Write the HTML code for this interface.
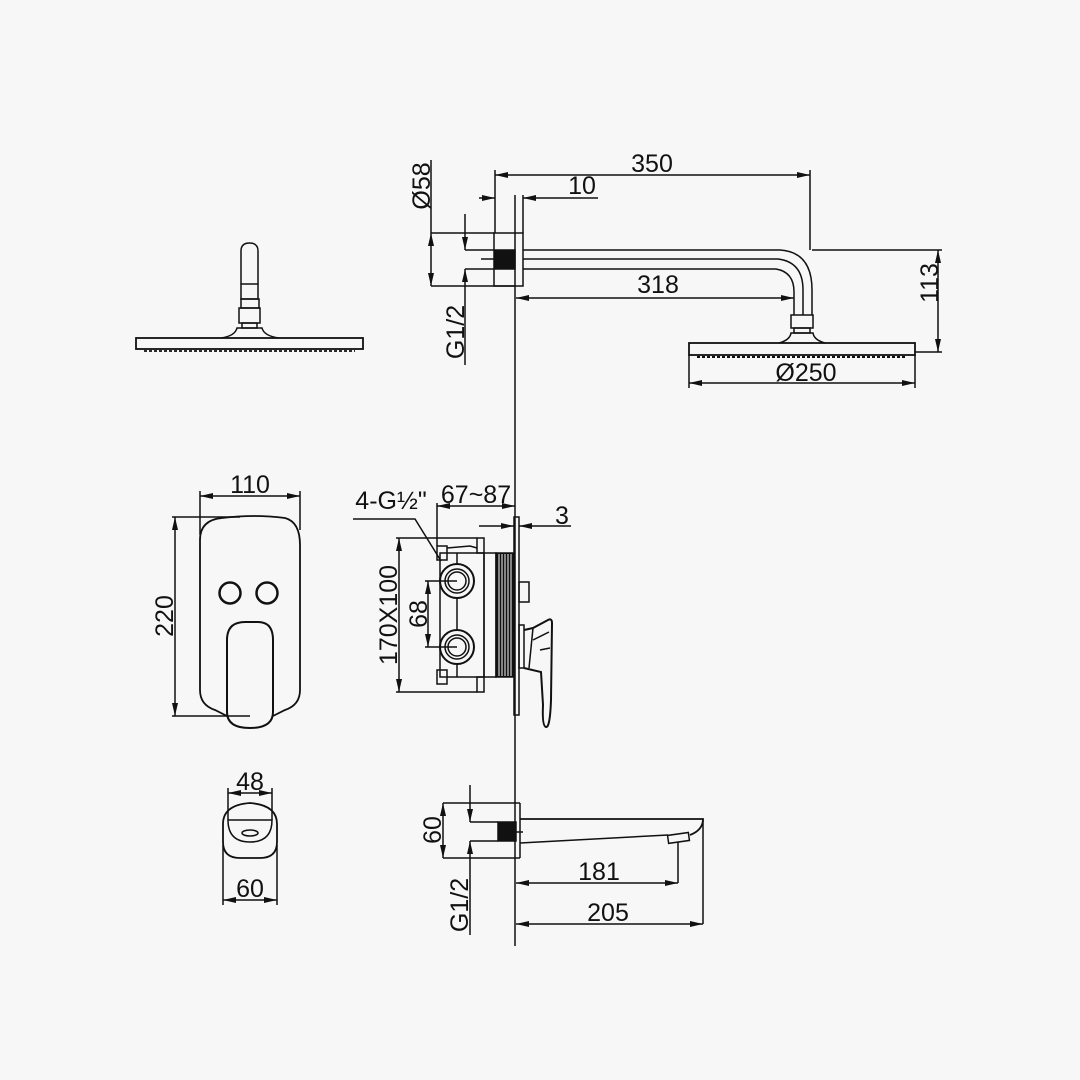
<!DOCTYPE html>
<html><head><meta charset="utf-8"><style>
html,body{margin:0;padding:0;background:#f7f7f7}
svg{display:block}
text{font-family:"Liberation Sans",sans-serif;font-size:25px;fill:#111;text-anchor:middle}
</style></head><body>
<svg width="1080" height="1080" viewBox="0 0 1080 1080" xmlns="http://www.w3.org/2000/svg">
<defs>
<marker id="a" viewBox="0 0 13 6" refX="13" refY="3" markerWidth="13" markerHeight="6" markerUnits="userSpaceOnUse" orient="auto-start-reverse"><path d="M0,0 L13,3 L0,6 z" fill="#111"/></marker>
</defs>
<rect width="1080" height="1080" fill="#f7f7f7"/>
<g stroke="#111" stroke-width="1.5" fill="none">
<line x1="515" y1="195" x2="515" y2="946"/>

<rect x="494" y="233" width="29" height="53"/>
<rect x="495" y="250" width="20" height="19" fill="#111"/>
<line x1="465" y1="250" x2="494" y2="250"/>
<line x1="465" y1="269" x2="494" y2="269"/>
<line x1="481" y1="259" x2="495" y2="259"/>
<path d="M523,250 L780,250 Q812,252 812,290 L812,315"/>
<path d="M523,259 L778,259 Q803,262 803,290 L803,315"/>
<path d="M523,269 L776,269 Q794,272 794,292 L794,315"/>
<rect x="791" y="315" width="22" height="13"/>
<rect x="794" y="328" width="16" height="5"/>
<path d="M779,343 Q790,340 791,333 L813,333 Q814,340 825,343"/>
<rect x="689" y="343" width="226" height="12" stroke-width="1.8"/>
<line x1="697" y1="357" x2="907" y2="357" stroke-dasharray="3 2" stroke-width="2"/>

<line x1="495" y1="170" x2="495" y2="233"/>
<line x1="810" y1="170" x2="810" y2="250"/>
<line x1="495" y1="175" x2="810" y2="175" marker-start="url(#a)" marker-end="url(#a)"/>
<line x1="479" y1="198" x2="495" y2="198" marker-end="url(#a)"/>
<line x1="598" y1="198" x2="523" y2="198" marker-end="url(#a)"/>
<line x1="523" y1="195" x2="523" y2="233"/>
<line x1="431" y1="233" x2="494" y2="233"/>
<line x1="431" y1="286" x2="515" y2="286"/>
<line x1="431" y1="233" x2="431" y2="286" marker-start="url(#a)" marker-end="url(#a)"/>
<line x1="431" y1="160" x2="431" y2="233"/>
<line x1="465" y1="214" x2="465" y2="250" marker-end="url(#a)"/>
<line x1="465" y1="365" x2="465" y2="269" marker-end="url(#a)"/>
<line x1="516" y1="298" x2="794" y2="298" marker-start="url(#a)" marker-end="url(#a)"/>
<line x1="812" y1="250" x2="942" y2="250"/>
<line x1="915" y1="352" x2="942" y2="352"/>
<line x1="938" y1="250" x2="938" y2="352" marker-start="url(#a)" marker-end="url(#a)"/>
<line x1="689" y1="355" x2="689" y2="388"/>
<line x1="915" y1="355" x2="915" y2="388"/>
<line x1="689" y1="383" x2="915" y2="383" marker-start="url(#a)" marker-end="url(#a)"/>

<path d="M241,284 L241,251 Q241,243 249.5,243 Q258,243 258,251 L258,284"/>
<rect x="241" y="284" width="17" height="15"/>
<rect x="241" y="299" width="18" height="9"/>
<rect x="239" y="308" width="21" height="15"/>
<rect x="242" y="323" width="15" height="5"/>
<path d="M221,338 Q235,336 237,328 L262,328 Q264,336 279,338"/>
<rect x="136" y="338" width="227" height="11" stroke-width="1.8"/>
<line x1="144" y1="351" x2="355" y2="351" stroke-dasharray="3 2" stroke-width="1.8"/>

<rect x="514" y="517" width="5" height="198"/>
<rect x="519" y="582" width="10" height="20"/>
<rect x="519" y="625" width="5" height="43"/>
<path d="M524,630 L533,628 L548,620 Q552,618 552,623 L551,700 Q550,728 546,727 Q542,726 543,705 L541,672 L524,668" stroke-width="2"/>
<path d="M533,628 L529,668 M533,640 L549,632 M540,650 L550,648"/>
<rect x="496" y="553" width="18" height="124" fill="#111"/>
<g stroke="#f7f7f7" stroke-width="1">
<line x1="499" y1="554" x2="499" y2="676"/><line x1="502" y1="554" x2="502" y2="676"/><line x1="505" y1="554" x2="505" y2="676"/><line x1="508" y1="554" x2="508" y2="676"/><line x1="511" y1="554" x2="511" y2="676"/>
</g>
<rect x="484" y="553" width="12" height="124"/>
<rect x="440" y="553" width="44" height="124"/>
<rect x="477" y="538" width="7" height="15"/>
<rect x="477" y="677" width="7" height="15"/>
<rect x="437" y="546" width="10" height="14"/>
<rect x="437" y="670" width="10" height="14"/>
<path d="M447,548 L470,546 L477,548"/>
<line x1="457" y1="553" x2="457" y2="564"/>
<line x1="457" y1="598" x2="457" y2="630"/>
<line x1="457" y1="664" x2="457" y2="677"/>
<circle cx="457" cy="581" r="17" stroke-width="2"/><circle cx="457" cy="581" r="12"/><circle cx="457" cy="581" r="9"/>
<circle cx="457" cy="647" r="17" stroke-width="2"/><circle cx="457" cy="647" r="12"/><circle cx="457" cy="647" r="9"/>
<line x1="425" y1="581" x2="457" y2="581"/>
<line x1="425" y1="647" x2="457" y2="647"/>
<line x1="428" y1="581" x2="428" y2="647" marker-start="url(#a)" marker-end="url(#a)"/>
<line x1="396" y1="538" x2="477" y2="538"/>
<line x1="396" y1="692" x2="477" y2="692"/>
<line x1="399" y1="538" x2="399" y2="692" marker-start="url(#a)" marker-end="url(#a)"/>
<line x1="437" y1="503" x2="437" y2="546"/>
<line x1="437" y1="506" x2="515" y2="506" marker-start="url(#a)" marker-end="url(#a)"/>
<line x1="479" y1="526" x2="514" y2="526" marker-end="url(#a)"/>
<line x1="571" y1="526" x2="519" y2="526" marker-end="url(#a)"/>
<path d="M353,519 L415,519 L441,561"/>

<path d="M227,716 L215,710 Q200,705 200,690 L200,540 Q200,520 222,518 Q255,514 285,518 Q300,522 300,545 L300,690 Q300,705 285,710 L273,716" stroke-width="1.8"/>
<circle cx="230" cy="593" r="10.5" stroke-width="2.5"/>
<circle cx="267" cy="593" r="10.5" stroke-width="2.5"/>
<path d="M227,640 Q227,622 245,622 L258,622 Q273,622 273,640 L273,712 Q273,728 250,728 Q227,728 227,712 Z" stroke-width="2"/>
<line x1="200" y1="491" x2="200" y2="535"/>
<line x1="300" y1="491" x2="300" y2="530"/>
<line x1="200" y1="496" x2="300" y2="496" marker-start="url(#a)" marker-end="url(#a)"/>
<line x1="172" y1="517" x2="240" y2="517"/>
<line x1="172" y1="716" x2="250" y2="716"/>
<line x1="175" y1="517" x2="175" y2="716" marker-start="url(#a)" marker-end="url(#a)"/>

<path d="M223,824 Q223,805 250,803 Q277,805 277,824 L277,842 Q277,858 260,858 L240,858 Q223,858 223,842 Z" stroke-width="1.8"/>
<path d="M228,820 L272,820 Q272,842 250,842 Q228,842 228,820 Z"/>
<ellipse cx="250" cy="833" rx="8" ry="3"/>
<line x1="228" y1="788" x2="228" y2="820"/>
<line x1="272" y1="788" x2="272" y2="820"/>
<line x1="228" y1="793" x2="272" y2="793" marker-start="url(#a)" marker-end="url(#a)"/>
<line x1="223" y1="845" x2="223" y2="905"/>
<line x1="277" y1="845" x2="277" y2="905"/>
<line x1="223" y1="900" x2="277" y2="900" marker-start="url(#a)" marker-end="url(#a)"/>

<line x1="443" y1="803" x2="520" y2="803"/>
<line x1="443" y1="858" x2="520" y2="858"/>
<line x1="520" y1="803" x2="520" y2="858"/>
<line x1="470" y1="822" x2="498" y2="822"/>
<line x1="470" y1="841" x2="498" y2="841"/>
<rect x="498" y="822" width="18" height="19" fill="#111"/>
<line x1="516" y1="832" x2="523" y2="832"/>
<path d="M520,819 L703,819 Q703,830 690,835" stroke-width="1.8"/>
<path d="M520,843 L668,835"/>
<rect x="668" y="834" width="21" height="8" transform="rotate(-8 678 838)"/>
<line x1="678" y1="842" x2="678" y2="883"/>
<line x1="703" y1="819" x2="703" y2="924"/>
<line x1="443" y1="803" x2="443" y2="858" marker-start="url(#a)" marker-end="url(#a)"/>
<line x1="470" y1="785" x2="470" y2="822" marker-end="url(#a)"/>
<line x1="470" y1="935" x2="470" y2="841" marker-end="url(#a)"/>
<line x1="516" y1="883" x2="678" y2="883" marker-start="url(#a)" marker-end="url(#a)"/>
<line x1="516" y1="924" x2="703" y2="924" marker-start="url(#a)" marker-end="url(#a)"/>
</g>

<text x="652" y="172">350</text>
<text x="582" y="194">10</text>
<text x="658" y="293">318</text>
<text x="806" y="381">Ø250</text>
<text transform="translate(430,186) rotate(-90)">Ø58</text>
<text transform="translate(464,332) rotate(-90)">G1/2</text>
<text transform="translate(938,283) rotate(-90)">113</text>
<text x="250" y="493">110</text>
<text transform="translate(173,616) rotate(-90)">220</text>
<text x="250" y="790">48</text>
<text x="250" y="897">60</text>
<text x="391" y="509">4-G½"</text>
<text x="476" y="503">67~87</text>
<text x="562" y="524">3</text>
<text transform="translate(397,615) rotate(-90)">170X100</text>
<text transform="translate(427,614) rotate(-90)">68</text>
<text transform="translate(441,830) rotate(-90)">60</text>
<text transform="translate(468,905) rotate(-90)">G1/2</text>
<text x="599" y="880">181</text>
<text x="608" y="921">205</text>
</svg>
</body></html>
